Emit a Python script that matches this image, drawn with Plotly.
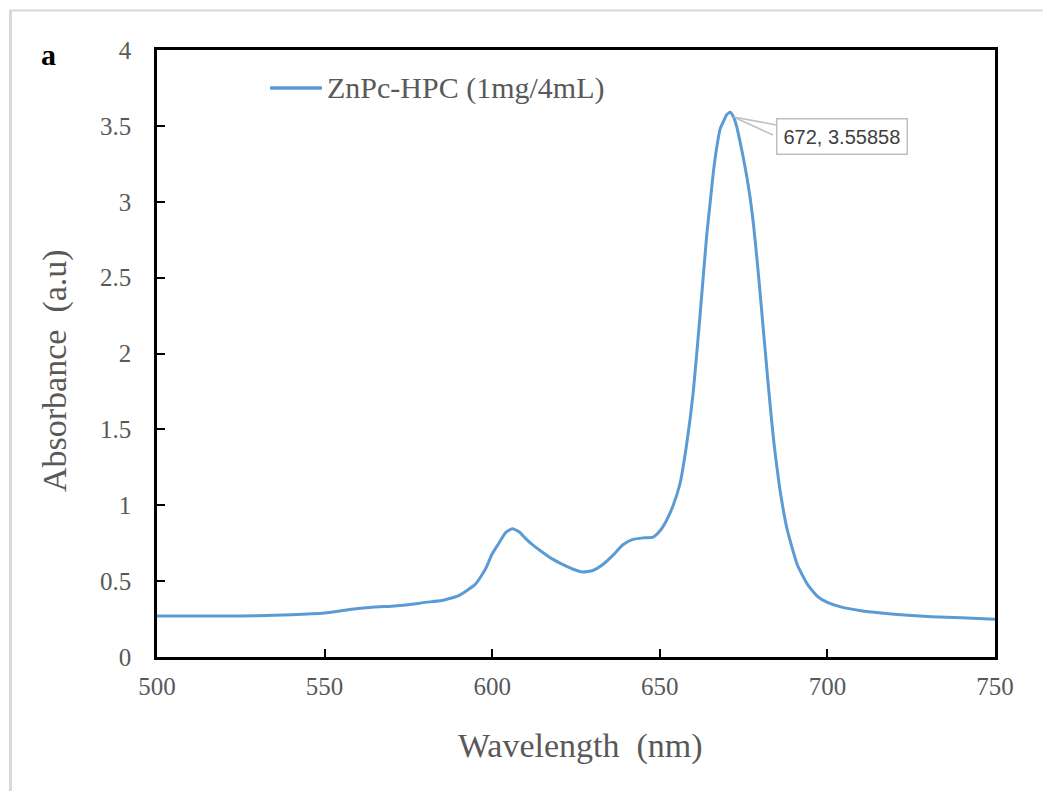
import plotly.graph_objects as go

# Spectrum data
wavelength = [500, 510, 520, 530, 540, 550, 555, 560, 565, 570, 575, 580, 585, 590, 595,
              598, 600, 602, 604, 606, 608, 610, 612, 615, 618, 621, 624, 627, 630, 633,
              636, 639, 642, 645, 648, 650, 652, 654, 656, 658, 660, 662, 664, 665, 666,
              667, 668, 669, 670, 671, 672, 673, 674, 675, 676, 677, 678, 679, 680, 681,
              682, 683, 684, 685, 686, 688, 691, 694, 697, 700, 704, 710, 716, 724, 731,
              740, 750]
absorbance = [0.270, 0.270, 0.270, 0.272, 0.278, 0.290, 0.305, 0.320, 0.330, 0.335, 0.345, 0.360, 0.372, 0.405, 0.480,
              0.580, 0.680, 0.750, 0.820, 0.845, 0.825, 0.780, 0.740, 0.690, 0.645, 0.610, 0.580, 0.560, 0.570, 0.610,
              0.670, 0.740, 0.775, 0.785, 0.790, 0.830, 0.900, 1.000, 1.140, 1.400, 1.750, 2.250, 2.780, 2.990, 3.200,
              3.360, 3.480, 3.530, 3.575, 3.590, 3.55858, 3.490, 3.390, 3.280, 3.160, 3.020, 2.840, 2.620, 2.380, 2.130,
              1.880, 1.640, 1.420, 1.240, 1.080, 0.840, 0.610, 0.480, 0.400, 0.360, 0.330, 0.305, 0.290, 0.275, 0.266,
              0.258, 0.248]

series_name = "ZnPc-HPC (1mg/4mL)"
peak_x, peak_y = 672, 3.55858
x_ticks = [500, 550, 600, 650, 700, 750]
y_ticks = [0, 0.5, 1, 1.5, 2, 2.5, 3, 3.5, 4]

LINE = "#5B9BD5"
GREY_TXT = "#595959"
SERIF = "Liberation Serif, Times New Roman, serif"

fig = go.Figure()
fig.add_trace(go.Scatter(x=wavelength, y=absorbance, mode="lines",
                         line=dict(color=LINE, width=3, shape="spline", smoothing=0.5),
                         name=series_name, showlegend=False, hoverinfo="x+y"))

W, H = 1043, 791
L, R, T, B = 157, 48, 50, 134
pw, ph = W - L - R, H - T - B


def px(xp):
    return (xp - L) / pw


def py(yp):
    return (H - B - yp) / ph


axis_common = dict(showline=True, linecolor="black", linewidth=2.5, mirror=True,
                   ticks="inside", ticklen=8, tickwidth=2, tickcolor="black",
                   showgrid=False, zeroline=False,
                   tickfont=dict(family=SERIF, size=25, color=GREY_TXT))

fig.update_layout(
    width=W, height=H,
    margin=dict(l=L, r=R, t=T, b=B),
    paper_bgcolor="white", plot_bgcolor="white",
    xaxis=dict(range=[500, 750], tickvals=x_ticks, ticklabelstandoff=5, **axis_common),
    yaxis=dict(range=[0, 4], tickvals=y_ticks, ticklabelstandoff=18, **axis_common),
)

# Axis titles
fig.add_annotation(text="Wavelength  (nm)", xref="paper", yref="paper",
                   x=px(580), y=py(746), xanchor="center", yanchor="middle", showarrow=False,
                   font=dict(family=SERIF, size=34, color=GREY_TXT))
fig.add_annotation(text="Absorbance  (a.u)", xref="paper", yref="paper",
                   x=px(55), y=py(371), xanchor="center", yanchor="middle",
                   showarrow=False, textangle=-90,
                   font=dict(family=SERIF, size=34, color=GREY_TXT))
# Panel letter
fig.add_annotation(text="<b>a</b>", xref="paper", yref="paper",
                   x=px(49), y=py(54), xanchor="center", yanchor="middle", showarrow=False,
                   font=dict(family=SERIF, size=30, color="black"))

# Legend (manual)
fig.add_shape(type="line", xref="paper", yref="paper",
              x0=px(270), x1=px(322), y0=py(88), y1=py(88),
              line=dict(color=LINE, width=3.5))
fig.add_annotation(text=series_name, xref="paper", yref="paper",
                   x=px(325), y=py(88), xanchor="left", yanchor="middle", showarrow=False,
                   font=dict(family=SERIF, size=30, color=GREY_TXT))

# Data label callout
fig.add_annotation(x=peak_x, y=peak_y, xref="x", yref="y",
                   text=f"{peak_x}, {peak_y}", showarrow=True, arrowhead=0,
                   arrowcolor="#BFBFBF", arrowwidth=1.5, ax=108, ay=20,
                   bordercolor="#BFBFBF", borderwidth=1.5, borderpad=6,
                   bgcolor="white",
                   font=dict(family="Liberation Sans, Arial, sans-serif", size=20, color="#404040"))
fig.add_shape(type="line", xref="x", yref="y",
              x0=peak_x, y0=peak_y,
              x1=500 + (773 - L) / (pw / 250), y1=(H - B - 135) / (ph / 4),
              line=dict(color="#BFBFBF", width=1.5), layer="below")

# Light grey frame edges (top and left) of the original picture
fig.add_shape(type="line", xref="paper", yref="paper",
              x0=px(9), x1=px(W + 5), y0=py(10.5), y1=py(10.5),
              line=dict(color="#D9D9D9", width=2))
fig.add_shape(type="line", xref="paper", yref="paper",
              x0=px(10.5), x1=px(10.5), y0=py(10), y1=py(H + 5),
              line=dict(color="#D9D9D9", width=3))

fig.write_html("out.html")
